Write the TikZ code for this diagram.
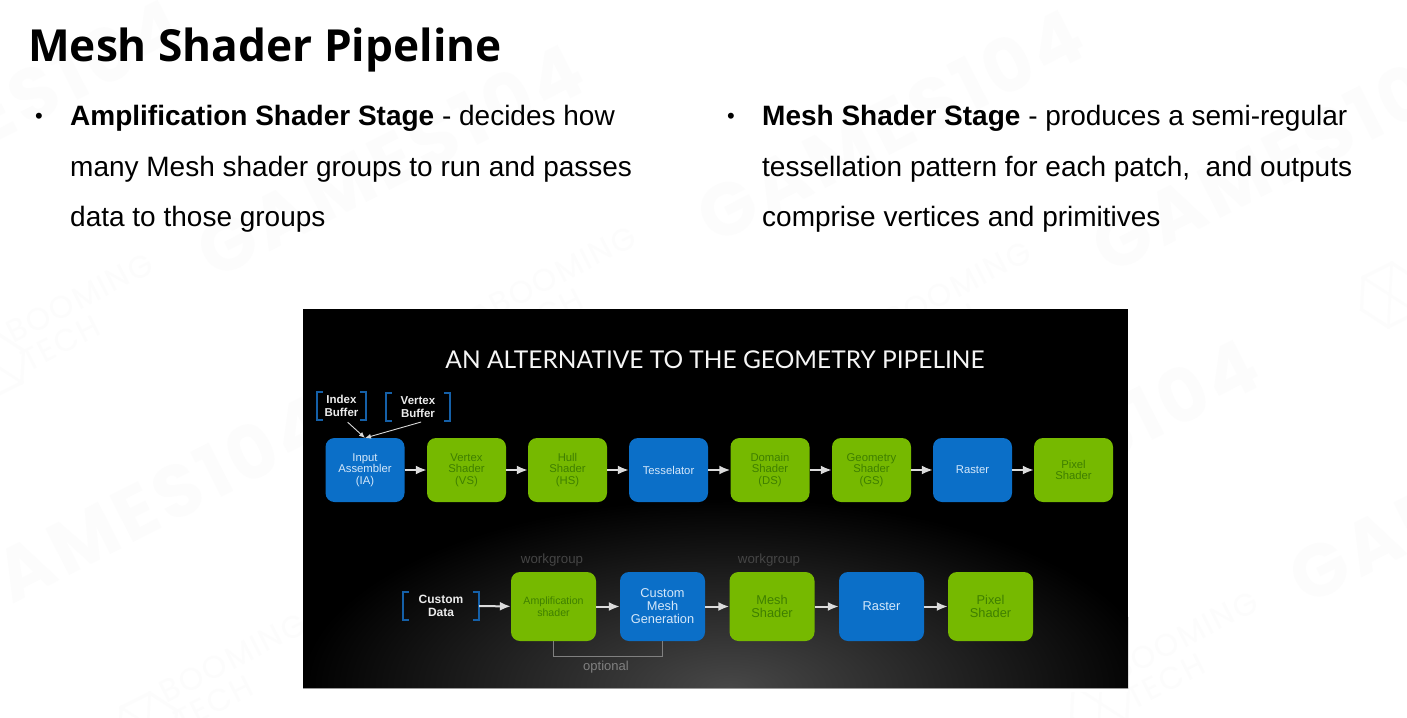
\documentclass[tikz,border=0pt]{standalone}
\usepackage{fontspec}
\setmainfont{Liberation Sans}
\newfontfamily\titlefont{Open Sans}
\newfontfamily\lato{Lato}
\newfontfamily\wmfont[LetterSpace=6]{Poppins}
\usetikzlibrary{arrows.meta,shapes.geometric}
\definecolor{nvgreen}{HTML}{76B900}
\definecolor{nvblue}{HTML}{0B6FC8}
\definecolor{gtext}{HTML}{3F7F00}
\definecolor{btext}{HTML}{D5E8FA}
\definecolor{brk}{HTML}{1560A8}
\definecolor{wm}{HTML}{FCFCFC}
\newcommand{\fsz}[2]{\fontsize{#1}{#2}\selectfont}
\tikzset{
  x=1pt,y=-1pt,
  body/.style={anchor=base west,inner sep=0pt,font=\fsz{28}{28}},
  bul/.style={anchor=center,inner sep=0pt,font=\fsz{22}{22}},
  stage/.style={rounded corners=9pt,inner sep=0pt,align=center,minimum height=64pt,minimum width=79pt},
  top/.style={stage,font=\fsz{11.3}{11.5}},
  low/.style={stage,minimum width=85pt,minimum height=69pt},
  gr/.style={fill=nvgreen,text=gtext},
  bl/.style={fill=nvblue,text=btext},
  flow/.style={draw=black!14,line width=2pt,-{Latex[length=11pt,width=9pt]}},
  thin flow/.style={draw=black!15,line width=0.9pt,-{Latex[length=6pt,width=5pt]}},
  bracket/.style={draw=brk,line width=1.6pt},
  brtext/.style={inner sep=0pt,align=center,text=black!8,font=\bfseries\fsz{11.5}{13}},
  games/.style={inner sep=0pt,rotate=27,text=wm,font=\wmfont\bfseries\fsz{74}{74}},
  boom/.style={inner sep=0pt,rotate=27,text=wm,align=left,font=\wmfont\fsz{31}{32}},
  logo/.style={regular polygon,regular polygon sides=6,minimum size=64pt,inner sep=0pt,rotate=27,draw=wm,line width=3pt},
}
\begin{document}
\begin{tikzpicture}
\useasboundingbox (0,0) rectangle (1407,717);
\fill[white] (0,0) rectangle (1407,717);
% watermarks
\node[games] (wa) at (-10,115) {GAMES104};
\node[games] (wb) at (390,160) {GAMES104};
\node[games] (wc) at (890,125) {GAMES104};
\node[games] (wd) at (1285,155) {GAMES104};
\node[games] (we) at (134,512) {GAMES104};
\node[games] (wf) at (1065,455) {GAMES104};
\node[games] (wg) at (1482,486) {GAMES104};
\node[boom] (ba) at (87,312) {BOOMING\\TECH};
\node[boom] (bb) at (570,285) {BOOMING\\TECH};
\node[boom] (bc) at (965,300) {BOOMING\\TECH};
\node[boom] (be) at (240,672) {BOOMING\\TECH};
\node[boom] (bf) at (1192,650) {BOOMING\\TECH};
\coordinate (bd) at (1482,242);
\foreach \n in {ba,bb,bc,bd,be,bf}{
  \node[logo] (lg\n) at ([shift={(-92,53)}]\n) {};
  \draw[wm,line width=2.5pt] (lg\n.corner 1) -- (lg\n.corner 4) (lg\n.corner 2) -- (lg\n.corner 5);
}
% heading
\node[anchor=base west,inner sep=0pt,font=\titlefont\bfseries\fsz{44.2}{45}] (title) at (28,61) {Mesh Shader Pipeline};
\node[bul] (b1) at (39,118) {•};
\node[body] (l1) at (70,125) {\textbf{Amplification Shader Stage} - decides how};
\node[body] (l2) at (70,176) {many Mesh shader groups to run and passes};
\node[body] (l3) at (70,226) {data to those groups};
\node[bul] (b2) at (731,118) {•};
\node[body] (r1) at (762,125) {\textbf{Mesh Shader Stage} - produces a semi-regular};
\node[body] (r2) at (762,176) {tessellation pattern for each patch,\ \ and outputs};
\node[body] (r3) at (762,226) {comprise vertices and primitives};
% image
\fill[black] (303,309) rectangle (1128,688);
\begin{scope}
\clip (303,309) rectangle (1128,688);
\shade[inner color=black!72,outer color=black] (730,688) ellipse[x radius=430,y radius=190];
\end{scope}
\fill[white] (303,688) rectangle (1128,692);
\draw[black!40,line width=.7pt] (303,688) -- (1128,688);
\node[inner sep=0pt,text=black!4,font=\lato\fsz{24.5}{25}] (head) at (715,360) {AN ALTERNATIVE TO THE GEOMETRY PIPELINE};
% top row
\node[top,bl] (ia) at (365,470) {Input\\Assembler\\(IA)};
\node[top,gr] (vs) at (466.5,470) {Vertex\\Shader\\(VS)};
\node[top,gr] (hs) at (567.5,470) {Hull\\Shader\\(HS)};
\node[top,bl] (te) at (668.5,470) {Tesselator};
\node[top,gr] (ds) at (770,470) {Domain\\Shader\\(DS)};
\node[top,gr] (gs) at (871.5,470) {Geometry\\Shader\\(GS)};
\node[top,bl] (ra) at (972.5,470) {Raster};
\node[top,gr] (ps) at (1073.5,470) {Pixel\\Shader};
\foreach \a/\b in {ia/vs,vs/hs,hs/te,te/ds,ds/gs,gs/ra,ra/ps}
  \draw[flow] (\a) -- (\b);
% buffers
\node[brtext,minimum width=49pt,minimum height=28pt] (ib) at (341.5,406) {Index\\Buffer};
\node[brtext,minimum width=64pt,minimum height=28pt] (vb) at (418,407) {Vertex\\Buffer};
\node[brtext,font=\bfseries\fsz{12}{13},minimum width=76pt,minimum height=28pt] (cd) at (441,606) {Custom\\Data};
\foreach \n in {ib,vb,cd}{
  \draw[bracket] ([xshift=6pt]\n.north west) -| (\n.south west) -- ++(6,0);
  \draw[bracket] ([xshift=-6pt]\n.north east) -| (\n.south east) -- ++(-6,0);
}
\coordinate (iain) at (365,438);
\draw[thin flow,shorten <=3pt] (ib.south) ++(4,0) coordinate (ibs) (ibs) -- (iain);
\draw[thin flow,shorten <=3pt] (vb.south) ++(6,0) coordinate (vbs) (vbs) -- (iain);
% bottom row
\node[low,gr,font=\fsz{10.6}{11.5}] (am) at (553.5,606.5) {Amplification\\shader};
\node[low,bl,font=\fsz{12.8}{13}] (cm) at (662.5,606.5) {Custom\\Mesh\\Generation};
\node[low,gr,font=\fsz{12.8}{13}] (ms) at (772,606.5) {Mesh\\Shader};
\node[low,bl,font=\fsz{12.8}{13}] (rb) at (881.5,606.5) {Raster};
\node[low,gr,font=\fsz{12.8}{13}] (pb) at (990.5,606.5) {Pixel\\Shader};
\foreach \a/\b in {cd/am,am/cm,cm/ms,ms/rb,rb/pb}
  \draw[flow] (\a) -- (\b);
\draw[draw=black!50,line width=1.2pt] (am.south) -- ++(0,15) -| (cm.south);
\node[inner sep=0pt,text=black!50,font=\fsz{13}{13}] (opt) at (606,667) {optional};
\node[inner sep=0pt,text=black!73,font=\fsz{13.3}{13}] (wg1) at (552,560) {workgroup};
\node[inner sep=0pt,text=black!73,font=\fsz{13.3}{13}] (wg2) at (769,560) {workgroup};
\end{tikzpicture}
\end{document}
